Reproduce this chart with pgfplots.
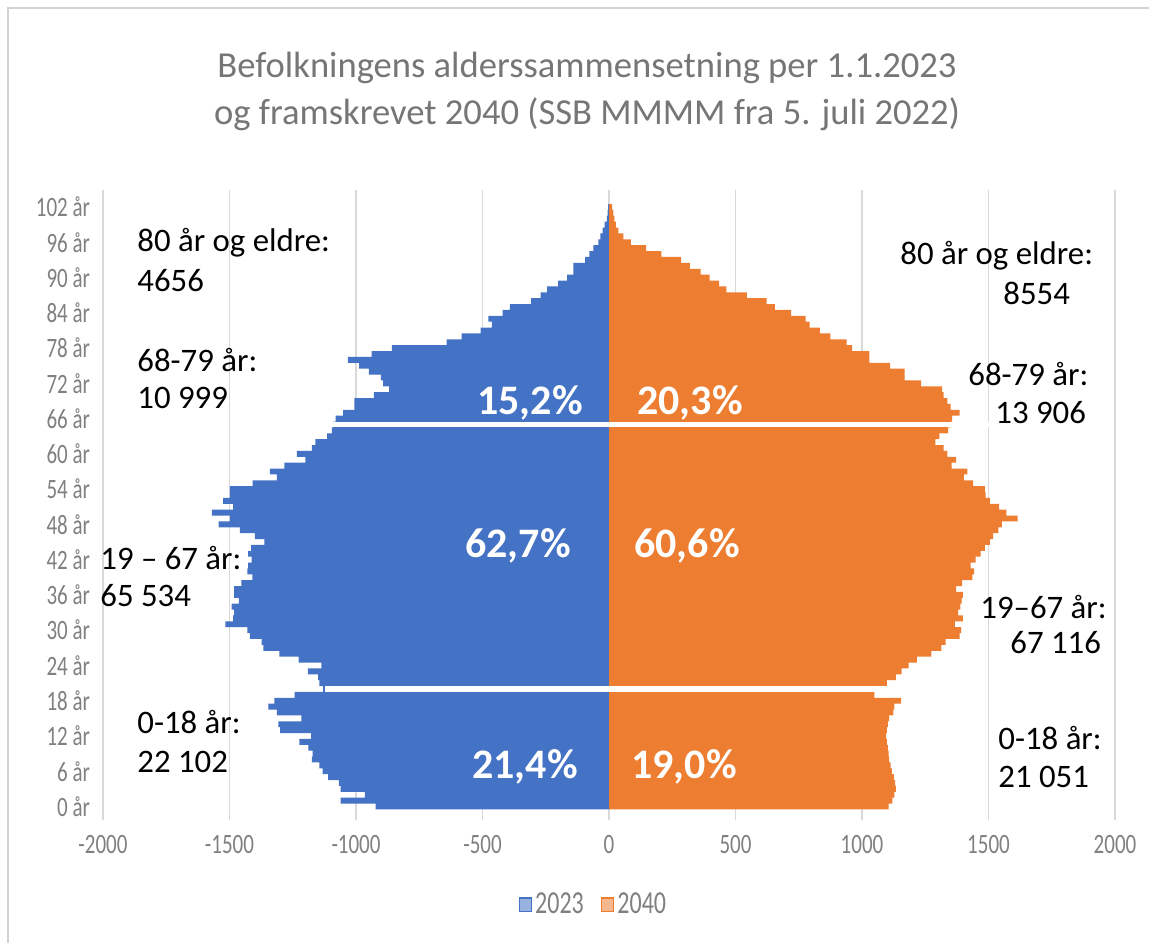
\documentclass[border=0pt]{standalone}
\usepackage{pgfplots}
\usepackage{pgfplotstable}
\pgfplotsset{compat=1.18}
\usepackage{fontspec}
\setmainfont{Carlito}
\newfontfamily\condfont[FakeStretch=0.75]{Carlito}
\definecolor{blue23}{HTML}{4472C4}
\definecolor{orange40}{HTML}{ED7D31}
\definecolor{gridgrey}{HTML}{D9D9D9}
\definecolor{tickgrey}{HTML}{808080}
\definecolor{titlegrey}{HTML}{767676}
\pgfplotstableread{
age m f
0 -922 1105
1 -1061 1120
2 -965 1128
3 -1061 1134
4 -1068 1131
5 -1110 1126
6 -1132 1118
7 -1145 1113
8 -1174 1107
9 -1171 1105
10 -1188 1102
11 -1224 1098
12 -1177 1095
13 -1300 1098
14 -1307 1102
15 -1216 1107
16 -1313 1124
17 -1346 1128
18 -1323 1155
19 -1243 1049
20 -1130 1080
21 -1145 1098
22 -1150 1134
23 -1190 1157
24 -1137 1184
25 -1227 1217
26 -1303 1274
27 -1366 1314
28 -1373 1330
29 -1419 1386
30 -1429 1392
31 -1516 1367
32 -1486 1399
33 -1482 1380
34 -1492 1389
35 -1463 1394
36 -1482 1399
37 -1482 1372
38 -1453 1396
39 -1410 1436
40 -1429 1443
41 -1426 1429
42 -1413 1449
43 -1426 1469
44 -1415 1486
45 -1362 1505
46 -1400 1518
47 -1459 1539
48 -1543 1553
49 -1499 1615
50 -1570 1571
51 -1486 1542
52 -1525 1505
53 -1499 1489
54 -1499 1486
55 -1409 1439
56 -1313 1403
57 -1340 1416
58 -1283 1354
59 -1200 1372
60 -1234 1337
61 -1174 1323
62 -1161 1290
63 -1114 1306
64 -1095 1340
65 -1090 1350
66 -1081 1356
67 -1051 1386
68 -1006 1350
69 -1006 1337
70 -929 1323
71 -869 1317
72 -893 1234
73 -902 1168
74 -949 1168
75 -988 1111
76 -1032 1029
77 -938 1029
78 -858 961
79 -642 939
80 -583 875
81 -507 833
82 -463 793
83 -477 777
84 -420 720
85 -392 656
86 -308 623
87 -270 545
88 -245 464
89 -201 435
90 -166 398
91 -141 362
92 -141 320
93 -94 285
94 -78 207
95 -62 147
96 -42 86
97 -34 57
98 -25 37
99 -17 27
100 -8 21
101 -5 17
102 -3 12
}\popdata
\begin{document}
\begin{tikzpicture}[x=0.5pt,y=0.5pt]
\useasboundingbox (0,0) rectangle (1149,943);
\fill[white] (0,0) rectangle (1149,943);
\draw[color=gray!35, line width=1.2] (8,0) -- (8,935) -- (1149,935);
\begin{axis}[
  at={(51.5pt,61.5pt)}, anchor=south west,
  width=506pt, height=315pt, scale only axis,
  xmin=-2000, xmax=2000, ymin=-2.3, ymax=104.9,
  xtick={-2000,-1500,-1000,-500,0,500,1000,1500,2000},
  xticklabels={-2000,-1500,-1000,-500,0,500,1000,1500,2000},
  ytick={0,6,...,102},
  yticklabels={0 år,6 år,12 år,18 år,24 år,30 år,36 år,42 år,48 år,54 år,60 år,66 år,72 år,78 år,84 år,90 år,96 år,102 år},
  xmajorgrids, major grid style={color=gridgrey, line width=0.8pt},
  axis line style={draw=none}, major tick length=0pt,
  tick label style={font=\condfont\fontsize{14}{16}\selectfont, text=tickgrey},
  xticklabel style={yshift=-4pt},
  yticklabel style={xshift=-3pt},
  xbar, bar width=1,
  legend style={at={(0.485,-0.135)}, anchor=center, draw=none, fill=none,
    legend columns=2, font=\condfont\fontsize{16}{18}\selectfont, text=tickgrey,
    /tikz/every even column/.append style={column sep=7pt},
    /tikz/every node/.append style={inner xsep=1.5pt}},
]
\addlegendimage{legend image code/.code={\draw[draw=blue23, fill=blue23!55, line width=0.8pt] (0pt,-3.2pt) rectangle (6pt,3.4pt);}}
\addlegendentry{2023}
\addlegendimage{legend image code/.code={\draw[draw=orange40, fill=orange40!55, line width=0.8pt] (0pt,-3.2pt) rectangle (6pt,3.4pt);}}
\addlegendentry{2040}
\addplot[fill=blue23, draw=none, bar shift=0pt, forget plot] table[x=m, y=age] {\popdata};
\addplot[fill=orange40, draw=none, bar shift=0pt, forget plot] table[x=f, y=age] {\popdata};
\fill[white] (axis cs:-1100,64.5) rectangle (axis cs:1560,65.5);
\fill[white] (axis cs:-1122,19.5) rectangle (axis cs:1100,20.5);
\end{axis}
\node[align=center, font=\fontsize{18.3}{23.5}\selectfont, text=titlegrey] at (587,851.5) {Befolkningens alderssammensetning per 1.1.2023\\og framskrevet 2040 (SSB MMMM fra 5. juli 2022)};
\begin{scope}[every node/.style={font=\fontsize{16.4}{19}\selectfont, anchor=west, inner sep=0pt}]
\node at (137,700) {80 år og eldre:};
\node at (137,662) {4656};
\node at (137,583) {68-79 år:};
\node at (137,545) {10 999};
\node at (100,385) {19 – 67 år:};
\node at (100,347) {65 534};
\node at (137,221) {0-18 år:};
\node at (137,181) {22 102};
\node at (900,687) {80 år og eldre:};
\node at (1003,650) {8554};
\node at (968,569) {68-79 år:};
\node at (995,530) {13 906};
\node at (980,336) {19–67 år:};
\node at (1010,300) {67 116};
\node at (998,205) {0-18 år:};
\node at (998,166) {21 051};
\end{scope}
\begin{scope}[every node/.style={font=\bfseries\fontsize{21}{24}\selectfont, text=white, inner sep=0pt}]
\node at (530,540) {15,2\%};
\node at (690,540) {20,3\%};
\node at (518,397) {62,7\%};
\node at (687,397) {60,6\%};
\node at (525,176) {21,4\%};
\node at (684,176) {19,0\%};
\end{scope}
\end{tikzpicture}
\end{document}
